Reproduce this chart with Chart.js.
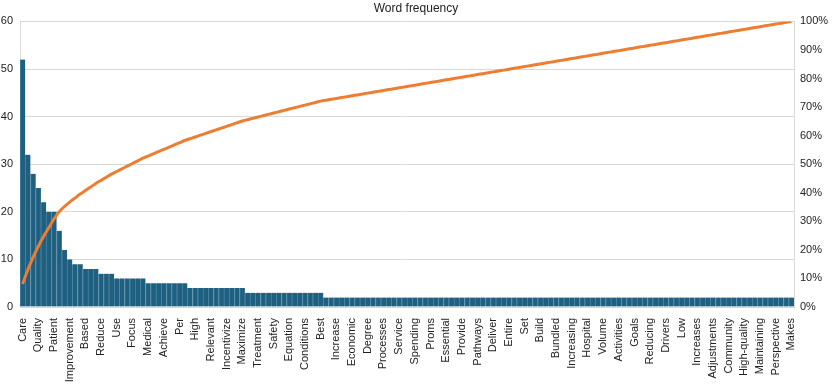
<!DOCTYPE html>
<html lang="en">
<head>
<meta charset="UTF-8">
<title>Word frequency</title>
<script src="https://cdn.jsdelivr.net/npm/chart.js"></script>
<style>
    html, body { margin: 0; padding: 0; background: #fff; }
    #wrap { width: 832px; height: 387px; }
</style>
</head>
<body>
<div id="wrap"><canvas id="grafico"></canvas></div>

<script>
    // words printed under the axis (every third bar carries a label)
    const shownWords = [
        'Care', 'Quality', 'Patient', 'Improvement', 'Based', 'Reduce', 'Use', 'Focus', 'Medical', 'Achieve',
        'Per', 'High', 'Relevant', 'Incentivize', 'Maximize', 'Treatment', 'Safety', 'Equation', 'Conditions', 'Best',
        'Increase', 'Economic', 'Degree', 'Processes', 'Service', 'Spending', 'Proms', 'Essential', 'Provide', 'Pathways',
        'Deliver', 'Entire', 'Set', 'Build', 'Bundled', 'Increasing', 'Hospital', 'Volume', 'Activities', 'Goals',
        'Reducing', 'Drivers', 'Low', 'Increases', 'Adjustments', 'Community', 'High-quality', 'Maintaining', 'Perspective', 'Makes'
    ];
    const labelEvery = 3;

    // word counts, one per bar (148 bars)
    const counts = [
        52, 32, 28, 25, 22, 20, 20, 16, 12, 10,
        9, 9, 8, 8, 8, 7, 7, 7, 6, 6,
        6, 6, 6, 6, 5, 5, 5, 5, 5, 5,
        5, 5, 4, 4, 4, 4, 4, 4, 4, 4,
        4, 4, 4, 3, 3, 3, 3, 3, 3, 3,
        3, 3, 3, 3, 3, 3, 3, 3, 2, 2,
        2, 2, 2, 2, 2, 2, 2, 2, 2, 2,
        2, 2, 2, 2, 2, 2, 2, 2, 2, 2,
        2, 2, 2, 2, 2, 2, 2, 2, 2, 2,
        2, 2, 2, 2, 2, 2, 2, 2, 2, 2,
        2, 2, 2, 2, 2, 2, 2, 2, 2, 2,
        2, 2, 2, 2, 2, 2, 2, 2, 2, 2,
        2, 2, 2, 2, 2, 2, 2, 2, 2, 2,
        2, 2, 2, 2, 2, 2, 2, 2, 2, 2,
        2, 2, 2, 2, 2, 2, 2, 2
    ];

    const leftTicks = [0, 10, 20, 30, 40, 50, 60];
    const rightTicks = [0, 10, 20, 30, 40, 50, 60, 70, 80, 90, 100];

    // category list: labelled word, then unlabelled bars
    const categories = counts.map((c, i) => i % labelEvery === 0 ? shownWords[i / labelEvery] : '');

    // cumulative share for the pareto line
    const total = counts.reduce((a, b) => a + b, 0);
    let soma = 0;
    const cumulative = counts.map(c => { soma += c; return soma / total * 100; });

    const fonte = "'Liberation Sans', Arial, sans-serif";
    const cinzaGrade = '#d9d9d9';

    new Chart(document.getElementById('grafico'), {
        data: {
            labels: categories,
            datasets: [
                {
                    type: 'line',
                    label: 'Cumulative',
                    data: cumulative,
                    yAxisID: 'y1',
                    borderColor: '#ed7d31',
                    borderWidth: 3,
                    pointRadius: 0,
                    tension: 0.3,
                    order: 0
                },
                {
                    type: 'bar',
                    label: 'Frequency',
                    data: counts,
                    yAxisID: 'y',
                    backgroundColor: '#1f5f80',
                    borderColor: '#4a84a2',
                    borderWidth: { left: 1, right: 0, top: 0, bottom: 0 },
                    barPercentage: 1,
                    categoryPercentage: 1,
                    order: 1
                }
            ]
        },
        options: {
            responsive: true,
            maintainAspectRatio: false,
            animation: false,
            layout: { padding: { left: 0, right: 0, top: 0, bottom: 0 } },
            plugins: {
                legend: { display: false },
                tooltip: { enabled: false },
                title: {
                    display: true,
                    text: 'Word frequency',
                    color: '#222',
                    font: { family: fonte, size: 12, weight: 'normal' },
                    padding: { top: 1, bottom: 6 }
                }
            },
            scales: {
                x: {
                    grid: { display: false },
                    border: { color: cinzaGrade },
                    ticks: {
                        autoSkip: false,
                        minRotation: 90,
                        maxRotation: 90,
                        padding: 3,
                        color: '#222',
                        font: { family: fonte, size: 11 },
                        callback: (v, i) => categories[i]
                    },
                    afterFit: s => { s.height = 80; }
                },
                y: {
                    position: 'left',
                    min: leftTicks[0],
                    max: leftTicks[leftTicks.length - 1],
                    afterBuildTicks: s => { s.ticks = leftTicks.map(v => ({ value: v })); },
                    grid: { color: cinzaGrade, drawTicks: false },
                    border: { color: cinzaGrade },
                    ticks: { color: '#222', padding: 7, font: { family: fonte, size: 11 } },
                    afterFit: s => { s.width = 20; }
                },
                y1: {
                    position: 'right',
                    min: rightTicks[0],
                    max: rightTicks[rightTicks.length - 1],
                    afterBuildTicks: s => { s.ticks = rightTicks.map(v => ({ value: v })); },
                    grid: { display: false, drawTicks: false },
                    border: { color: cinzaGrade },
                    ticks: {
                        color: '#222',
                        padding: 6,
                        font: { family: fonte, size: 11 },
                        callback: v => v + '%'
                    },
                    afterFit: s => { s.width = 38; }
                }
            }
        }
    });
</script>
</body>
</html>
